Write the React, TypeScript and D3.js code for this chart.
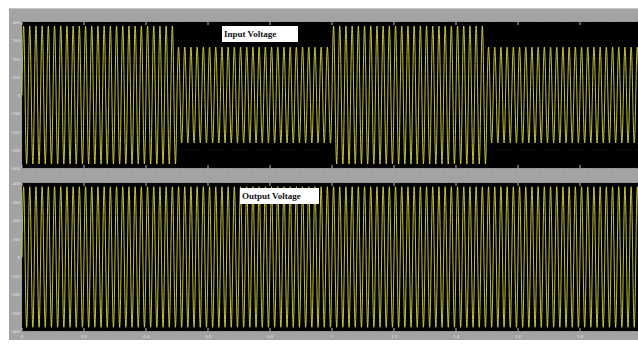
import React from "react";
import * as d3 from "d3";

// signal description (time in s, volts)
const FREQ = 50;
const SAMPLE_STEP = 0.0005;
const inputBreaks = [0, 0.5, 1.0, 1.5, 2.0];
const inputAmps = [378, 263, 378, 263];
const outputBreaks = [0, 2.0];
const outputAmps = [380];

const xTicks = [0, 0.2, 0.4, 0.6, 0.8, 1, 1.2, 1.4, 1.6, 1.8, 2];
const yTicks = [400, 300, 200, 100, 0, -100, -200, -300, -400];

const W = 638;
const H = 344;

const panels = [
  { title: "Input Voltage", top: 22, bottom: 168, breaks: inputBreaks, amps: inputAmps, titleX: 222, titleW: 76, titleY: 26 },
  { title: "Output Voltage", top: 183, bottom: 331, breaks: outputBreaks, amps: outputAmps, titleX: 240, titleW: 79, titleY: 188 },
];

const x = d3.scaleLinear().domain([0, 2]).range([22, 642]);

function wave(breaks: number[], amps: number[]) {
  const pts: [number, number][] = [];
  const end = breaks[breaks.length - 1];
  const n = Math.round(end / SAMPLE_STEP);
  for (let i = 0; i <= n; i++) {
    const t = i * SAMPLE_STEP;
    let k = d3.bisectRight(breaks, t) - 1;
    if (k >= amps.length) k = amps.length - 1;
    pts.push([t, amps[k] * Math.sin(2 * Math.PI * FREQ * t)]);
  }
  return pts;
}

export default function App() {
  return (
    <svg width={W} height={H} style={{ position: "absolute", left: 0, top: 0 }}
      fontFamily="Liberation Serif">
      <rect width={W} height={H} fill="#fff" />
      <rect x={9} y={8} width={W} height={332} fill="#a3a3a3" />
      <rect x={9} y={8} width={W} height={1} fill="#c4c4c4" />
      {panels.map((p, pi) => {
        const y = d3.scaleLinear().domain([-400, 400]).range([p.bottom, p.top]);
        const line = d3.line<[number, number]>().x(d => x(d[0])).y(d => y(d[1]));
        return (
          <g key={pi}>
            <rect x={22} y={p.top} width={W} height={p.bottom - p.top} fill="#000" />
            {yTicks.map(v => (
              <line key={"g" + v} x1={22} x2={W} y1={y(v)} y2={y(v)}
                stroke="#2a2a2a" strokeWidth={0.6} strokeDasharray="1,2" />
            ))}
            <path d={line(wave(p.breaks, p.amps)) || ""} fill="none"
              stroke="#d6d64a" strokeWidth={0.9} />
            {xTicks.map(v => (
              <g key={"t" + v}>
                <line x1={x(v)} x2={x(v)} y1={p.top} y2={p.top + 3} stroke="#bbb" />
                <line x1={x(v)} x2={x(v)} y1={p.bottom - 3} y2={p.bottom} stroke="#bbb" />
              </g>
            ))}
            {yTicks.map(v => (
              <text key={"y" + v} x={20} y={y(v) + 2} fontSize={5} fill="#e6e6e6"
                textAnchor="end">{v}</text>
            ))}
            <rect x={p.titleX} y={p.titleY} width={p.titleW} height={16} fill="#fff" />
            <text x={p.titleX + 2} y={p.titleY + 11} fontSize={9} fontWeight="bold"
              fill="#111">{p.title}</text>
          </g>
        );
      })}
      {xTicks.filter(v => x(v) < W - 10).map(v => (
        <text key={"xl" + v} x={x(v)} y={338} fontSize={5} fill="#e6e6e6"
          textAnchor="middle">{v}</text>
      ))}
    </svg>
  );
}
